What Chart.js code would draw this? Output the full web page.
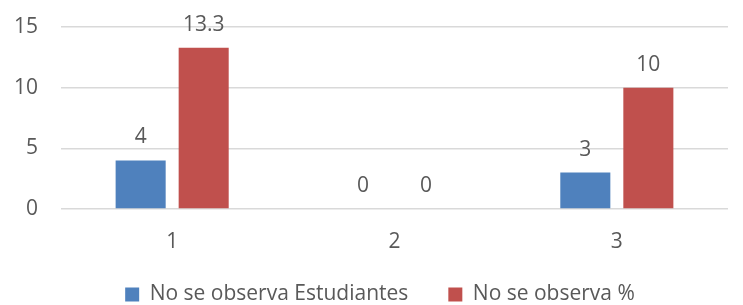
<!DOCTYPE html>
<html>
<head>
<meta charset="utf-8">
<script src="https://cdn.jsdelivr.net/npm/chart.js@4.4.1/dist/chart.umd.min.js"></script>
<style>
  html, body { margin: 0; padding: 0; background: #fff; }
  #wrap { width: 743px; height: 305px; }
</style>
</head>
<body>
<div id="wrap"><canvas id="chart" width="743" height="305"></canvas></div>
<script>
var categories = ["1", "2", "3"];
var estudiantes = [4, 0, 3];
var porcentaje = [13.3, 0, 10];
var seriesNames = ["No se observa Estudiantes", "No se observa %"];
var yTicks = [0, 5, 10, 15];

var textColor = "#595959";
var fontFamily = "'Open Sans', sans-serif";
var fontSize = 21;

// labels above each bar, placed from the bar elements
var valueLabels = {
    id: "valueLabels",
    afterDatasetsDraw: function (chart) {
        var ctx = chart.ctx;
        ctx.save();
        ctx.fillStyle = textColor;
        ctx.font = fontSize + "px " + fontFamily;
        ctx.textAlign = "center";
        ctx.textBaseline = "alphabetic";
        chart.data.datasets.forEach(function (ds, i) {
            var meta = chart.getDatasetMeta(i);
            meta.data.forEach(function (bar, j) {
                ctx.fillText(String(ds.data[j]), bar.x, bar.y - 17);
            });
        });
        ctx.restore();
    }
};

// legend keeps a wide gap between items but sits lower, closer to the axis
var legendFit = {
    id: "legendFit",
    beforeLayout: function (chart) {
        var lg = chart.legend;
        if (lg && !lg._patched) {
            var orig = lg.fit;
            lg.fit = function () {
                orig.call(this);
                this.height = 50;
            };
            lg._patched = true;
        }
    },
    afterLayout: function (chart) {
        var lg = chart.legend;
        if (lg) {
            lg.top = 244;
            lg.bottom = 244 + 64;
            lg.left += 16;
            lg.right += 16;
        }
    }
};

var ctx = document.getElementById("chart").getContext("2d");
var chart = new Chart(ctx, {
    type: "bar",
    data: {
        labels: categories,
        datasets: [{
            label: seriesNames[0],
            data: estudiantes,
            backgroundColor: "#4F81BD",
            categoryPercentage: 0.567,
            barPercentage: 0.794
        }, {
            label: seriesNames[1],
            data: porcentaje,
            backgroundColor: "#C0504D",
            categoryPercentage: 0.567,
            barPercentage: 0.794
        }]
    },
    options: {
        responsive: false,
        animation: false,
        layout: { padding: { top: 27, right: 15, left: 0, bottom: 0 } },
        plugins: {
            tooltip: { enabled: false },
            legend: {
                position: "bottom",
                labels: {
                    color: textColor,
                    font: { family: fontFamily, size: fontSize },
                    boxWidth: 14,
                    boxHeight: 14,
                    padding: 40
                },
                onClick: null
            }
        },
        scales: {
            x: {
                grid: { display: false, drawTicks: false },
                border: { display: false },
                ticks: {
                    color: textColor,
                    font: { family: fontFamily, size: fontSize },
                    padding: 20
                },
                afterFit: function (scale) { scale.height = 46; }
            },
            y: {
                min: 0,
                max: 15,
                afterBuildTicks: function (scale) {
                    scale.ticks = yTicks.map(function (v) { return { value: v }; });
                },
                grid: { color: "#D9D9D9", lineWidth: 1.5, drawTicks: false },
                border: { display: false },
                ticks: {
                    color: textColor,
                    font: { family: fontFamily, size: fontSize },
                    padding: 23
                },
                afterFit: function (scale) {
                    scale.width = 61;
                    scale.paddingTop = 0;
                    scale.paddingBottom = 0;
                }
            }
        }
    },
    plugins: [valueLabels, legendFit]
});
</script>
</body>
</html>
